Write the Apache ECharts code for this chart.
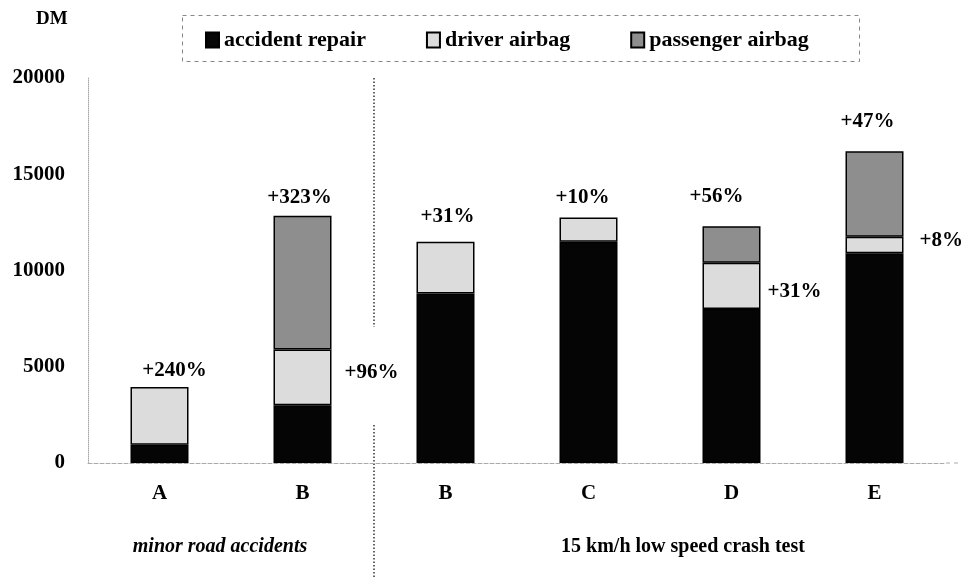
<!DOCTYPE html>
<html><head><meta charset="utf-8">
<script src="https://cdn.jsdelivr.net/npm/echarts@6/dist/echarts.min.js"></script>
<style>html,body{margin:0;padding:0;background:#fff}#c{width:963px;height:577px}</style>
</head><body><div id="c"></div>
<script>
// ---- data ----
const categories = ['A', 'B', 'B', 'C', 'D', 'E'];
const seriesNames = ['accident repair', 'driver airbag', 'passenger airbag'];
const accidentRepair = [950, 3000, 8800, 11500, 8000, 10900];
const driverAirbag = [3000, 2900, 2700, 1250, 2400, 850];
const passengerAirbag = [0, 6950, 0, 0, 1900, 4450];
const topLabels = ['+240%', '+323%', '+31%', '+10%', '+56%', '+47%'];
const sideLabels = ['', '+96%', '', '', '+31%', '+8%'];
const groupLabels = ['minor road accidents', '15 km/h low speed crash test'];
const yUnit = 'DM';
const yTicks = [0, 5000, 10000, 15000, 20000];

// ---- styling / layout (not data) ----
const FONT = '"Liberation Serif", "Times New Roman", serif';
const colors = ['#050505', '#dcdcdc', '#8e8e8e'];
const topLabelOffset = [[15, -6], [-3, -8], [2, -15], [-6, -9], [-15, -19], [-7, -19]];
const sideLabelOffset = [[0, 0], [13, -5], [0, 0], [0, 0], [7, 6], [16, -4]];
const GRID = {left: 88, top: 78, width: 858, height: 385};

const valueSets = [accidentRepair, driverAirbag, passengerAirbag];
const topIndex = categories.map((_, i) => (passengerAirbag[i] > 0 ? 2 : 1));
const labelBase = {fontFamily: FONT, fontWeight: 'bold', fontSize: 21, color: '#000'};

function buildData(values, s) {
  return values.map((v, i) => {
    const item = {value: v === 0 ? '-' : v};
    if (topIndex[i] === s) {
      item.label = Object.assign({show: true, position: 'top', distance: 0,
        formatter: topLabels[i], offset: topLabelOffset[i]}, labelBase);
    } else if (s === 1 && sideLabels[i]) {
      item.label = Object.assign({show: true, position: 'right', distance: 0,
        formatter: sideLabels[i], offset: sideLabelOffset[i]}, labelBase);
    }
    return item;
  });
}

const chart = echarts.init(document.getElementById('c'));
const option = {
  backgroundColor: '#fff',
  animation: false,
  grid: GRID,
  legend: {
    left: 200, top: 24, itemGap: 60, itemWidth: 13, itemHeight: 15,
    icon: 'rect',
    textStyle: {fontFamily: FONT, fontWeight: 'bold', fontSize: 22, color: '#000'},
    data: seriesNames
  },
  xAxis: {
    type: 'category', data: categories,
    axisTick: {show: false},
    axisLine: {show: true, lineStyle: {color: '#aaa', type: 'dashed', width: 1}},
    axisLabel: {fontFamily: FONT, fontWeight: 'bold', fontSize: 21, color: '#000', margin: 20}
  },
  yAxis: {
    type: 'value', min: yTicks[0], max: yTicks[yTicks.length - 1],
    interval: yTicks[1] - yTicks[0],
    splitLine: {show: false},
    axisTick: {show: false},
    axisLine: {show: true, lineStyle: {color: '#aaa', type: 'dotted', width: 1}},
    axisLabel: {fontFamily: FONT, fontWeight: 'bold', fontSize: 21, color: '#000', margin: 23,
      formatter: v => String(v)}
  },
  series: seriesNames.map((name, s) => ({
    name, type: 'bar', stack: 'total', barWidth: 58,
    itemStyle: {color: colors[s], borderColor: '#000', borderWidth: 1.5},
    data: buildData(valueSets[s], s)
  }))
};
chart.setOption(option);

const x1 = chart.convertToPixel({xAxisIndex: 0}, 1);
const x2 = chart.convertToPixel({xAxisIndex: 0}, 2);
const xDiv = (x1 + x2) / 2;
const yTop = chart.convertToPixel({yAxisIndex: 0}, yTicks[yTicks.length - 1]);
const yBase = chart.convertToPixel({yAxisIndex: 0}, yTicks[0]);
const divStyle = {stroke: '#333', lineWidth: 1.5, lineDash: [1.5, 2]};
chart.setOption({
  graphic: [
    {type: 'rect', left: 180, top: 13, shape: {width: 677, height: 46},
      style: {fill: 'none', stroke: '#888', lineWidth: 1, lineDash: [4, 4]}},
    {type: 'text', left: 36, top: 10, style: {text: yUnit, font: 'bold 19px ' + FONT, fill: '#000'}},
    {type: 'text', x: 220, y: 547, style: {text: groupLabels[0], font: 'italic bold 20px ' + FONT,
      fill: '#000', align: 'center', verticalAlign: 'middle'}},
    {type: 'text', x: 683, y: 547, style: {text: groupLabels[1], font: 'bold 20px ' + FONT,
      fill: '#000', align: 'center', verticalAlign: 'middle'}},
    {type: 'line', shape: {x1: GRID.left + GRID.width, y1: yBase, x2: 960, y2: yBase},
      style: {stroke: '#aaa', lineWidth: 1, lineDash: [4, 4]}},
    {type: 'line', shape: {x1: xDiv, y1: yTop, x2: xDiv, y2: 327}, style: divStyle},
    {type: 'line', shape: {x1: xDiv, y1: 425, x2: xDiv, y2: 577}, style: divStyle}
  ]
});
</script>
</body></html>
